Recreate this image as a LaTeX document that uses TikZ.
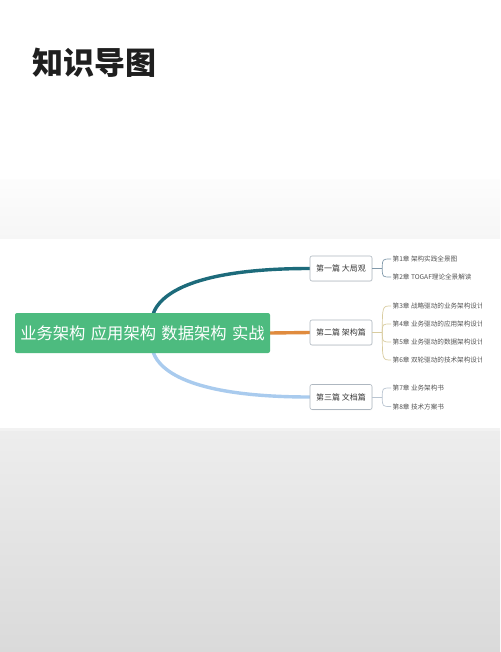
\documentclass[tikz,border=0pt]{standalone}
\usepackage{fontspec}
\setmainfont{Noto Sans CJK SC}
\usetikzlibrary{shadows}
\definecolor{teal1}{HTML}{1D6B7B}
\definecolor{orange1}{HTML}{E08B3E}
\definecolor{blue1}{HTML}{A9CBEE}
\definecolor{green1}{HTML}{4DBB7F}
\definecolor{boxline}{HTML}{AEB7C0}
\definecolor{brA}{HTML}{8199AA}
\definecolor{brB}{HTML}{D9CC9F}
\definecolor{brC}{HTML}{BAC5D1}
\definecolor{leaftxt}{HTML}{555555}
\definecolor{lvtxt}{HTML}{3A3A3A}
\pgfdeclarelayer{bg}
\pgfsetlayers{bg,main}
\begin{document}
\begin{tikzpicture}[x=1pt,y=-1pt,
  titlestyle/.style={anchor=west,inner sep=0pt,font=\fontsize{31}{34}\selectfont\bfseries,text=black!88},
  rootbox/.style={fill=green1,rounded corners=2pt,minimum width=255pt,minimum height=40pt,inner sep=0pt,text=white,font=\fontsize{16.3}{18}\selectfont},
  lvbox/.style={draw=boxline,line width=0.6pt,fill=white,rounded corners=2pt,minimum width=62pt,minimum height=25pt,inner sep=0pt,text=lvtxt,font=\fontsize{8}{10}\selectfont,drop shadow={opacity=0.08,shadow xshift=0.6pt,shadow yshift=-0.8pt}},
  leaf/.style={anchor=west,inner sep=1.5pt,text=leaftxt,font=\fontsize{6.6}{8}\selectfont},
  branch/.style={line width=3.4pt,line cap=round},
  bracket/.style={line width=0.7pt}
]
\useasboundingbox (0,0) rectangle (500,652);
\clip (0,0) rectangle (500,652);

% nodes
\node[titlestyle] (title) at (32,63) {知识导图};
\node[rootbox] (root) at (142.5,333) {业务架构\hspace{0.33em}应用架构\hspace{0.33em}数据架构\hspace{0.33em}实战};

\node[lvbox] (b1) at (341,268.5) {第一篇 大局观};
\node[lvbox] (b2) at (341,332.5) {第二篇 架构篇};
\node[lvbox] (b3) at (341,397) {第三篇 文档篇};

\coordinate (j1) at ([xshift=10pt]b1.east);
\coordinate (j2) at ([xshift=10pt]b2.east);
\coordinate (j3) at ([xshift=10pt]b3.east);

\begin{scope}
\clip (0,0) rectangle (481,652);
\node[leaf] (l1) at (391,259) {第1章 架构实践全景图};
\node[leaf] (l2) at (391,277) {第2章 TOGAF理论全景解读};
\node[leaf] (l3) at (391,306) {第3章 战略驱动的业务架构设计};
\node[leaf] (l4) at (391,324) {第4章 业务驱动的应用架构设计};
\node[leaf] (l5) at (391,342) {第5章 业务驱动的数据架构设计};
\node[leaf] (l6) at (391,360) {第6章 双轮驱动的技术架构设计};
\node[leaf] (l7) at (391,388) {第7章 业务架构书};
\node[leaf] (l8) at (391,406.5) {第8章 技术方案书};
\end{scope}

\begin{pgfonlayer}{bg}
  \fill[white] (0,0) rectangle (500,652);
  \shade[top color=white!99!black, bottom color=white!96.5!black] (0,180) rectangle (500,238);
  \fill[white!95!black] (0,428) rectangle (500,431);
  \shade[top color=white!93!black, bottom color=white!85.5!black] (0,431) rectangle (500,652);

  \draw[branch,teal1] ([xshift=10pt,yshift=-3pt]root.north) .. controls +(8,-28) and +(-100,0) .. (b1.west);
  \draw[branch,orange1] (root.east) -- (b2.west);
  \draw[branch,blue1] ([xshift=10pt,yshift=3pt]root.south) .. controls +(8,28) and +(-100,0) .. (b3.west);
\end{pgfonlayer}

% brackets
\draw[bracket,brA] (b1.east) -- (j1);
\draw[bracket,brA] (j1) .. controls (j1 |- l1.west) .. (l1.west);
\draw[bracket,brA] (j1) .. controls (j1 |- l2.west) .. (l2.west);

\draw[bracket,brB] (b2.east) -- (j2);
\draw[bracket,brB] (j2) .. controls (j2 |- l3.west) .. (l3.west);
\draw[bracket,brB] (j2) .. controls (j2 |- l4.west) .. (l4.west);
\draw[bracket,brB] (j2) .. controls (j2 |- l5.west) .. (l5.west);
\draw[bracket,brB] (j2) .. controls (j2 |- l6.west) .. (l6.west);

\draw[bracket,brC] (b3.east) -- (j3);
\draw[bracket,brC] (j3) .. controls (j3 |- l7.west) .. (l7.west);
\draw[bracket,brC] (j3) .. controls (j3 |- l8.west) .. (l8.west);
\end{tikzpicture}
\end{document}
